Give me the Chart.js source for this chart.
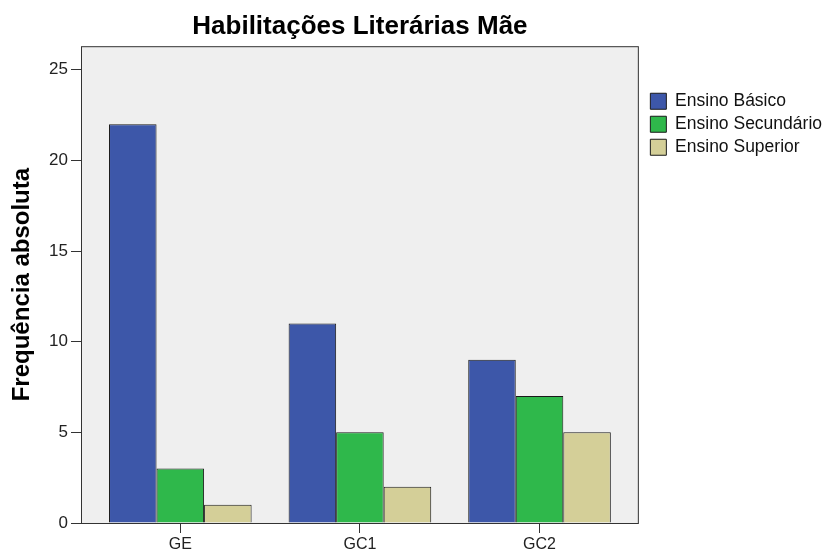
<!DOCTYPE html>
<html>
<head>
<meta charset="utf-8">
<script src="https://cdn.jsdelivr.net/npm/chart.js@4/dist/chart.umd.min.js"></script>
<style>
  html, body { margin: 0; padding: 0; background: #fff; }
  #wrap { width: 824px; height: 554px; }
</style>
</head>
<body>
<div id="wrap"><canvas id="chart"></canvas></div>
<script>
// categories and series
const grupos = ['GE', 'GC1', 'GC2'];
const seriesNomes = ['Ensino Básico', 'Ensino Secundário', 'Ensino Superior'];
const ensinoBasico = [22, 11, 9];
const ensinoSecundario = [3, 5, 7];
const ensinoSuperior = [1, 2, 5];
const yTicks = [0, 5, 10, 15, 20, 25];

const cores = ['#3d57a9', '#2fb84b', '#d4cf98'];
const FONT = "'Liberation Sans', Arial, sans-serif";

// gray plot background + frame, and push the legend a bit off the frame
const framePlugin = {
    id: 'frame',
    afterLayout: function(chart) {
        const lg = chart.legend;
        if (lg) { lg.left += 6; lg.right += 6; }
    },
    beforeDatasetsDraw: function(chart) {
        const a = chart.chartArea;
        const ctx = chart.ctx;
        ctx.save();
        ctx.fillStyle = '#efefef';
        ctx.fillRect(a.left, a.top, a.right - a.left, a.bottom - a.top);
        ctx.strokeStyle = '#333';
        ctx.lineWidth = 1;
        ctx.strokeRect(a.left + 0.5, a.top + 0.5, a.right - a.left - 1, a.bottom - a.top);
        ctx.restore();
    }
};

const toPoints = (vals) => vals.map((v, i) => ({ x: i, y: v }));
const series = [ensinoBasico, ensinoSecundario, ensinoSuperior];

const chart = new Chart(document.getElementById('chart'), {
    type: 'bar',
    data: {
        datasets: series.map((vals, k) => ({
            label: seriesNomes[k],
            data: toPoints(vals),
            backgroundColor: cores[k],
            borderColor: '#1a1a1a',
            borderWidth: 1,
            borderSkipped: 'bottom',
            categoryPercentage: 0.794,
            barPercentage: 1
        }))
    },
    options: {
        responsive: true,
        maintainAspectRatio: false,
        animation: false,
        layout: { padding: { top: 0, left: 0, right: -2, bottom: 0 } },
        scales: {
            x: {
                type: 'linear',
                min: -0.553,
                max: 2.553,
                offset: false,
                afterBuildTicks: (s) => { s.ticks = grupos.map((g, i) => ({ value: i })); },
                afterFit: (s) => { s.height = 31; },
                ticks: {
                    callback: (v) => grupos[v],
                    color: '#222',
                    font: { family: FONT, size: 16 },
                    padding: 2,
                    maxRotation: 0
                },
                grid: { offset: false, drawOnChartArea: false, tickLength: 10, tickColor: '#333' },
                border: { display: false }
            },
            y: {
                min: 0,
                max: 26.3,
                afterBuildTicks: (s) => { s.ticks = yTicks.map(v => ({ value: v })); },
                afterFit: (s) => { s.width = 81; },
                ticks: {
                    color: '#222',
                    font: { family: FONT, size: 17 },
                    padding: 3
                },
                grid: { drawOnChartArea: false, tickLength: 10, tickColor: '#333' },
                border: { display: false },
                title: {
                    display: true,
                    text: 'Frequência absoluta',
                    color: '#000',
                    font: { family: FONT, size: 24, weight: 'bold' },
                    padding: { top: 8, bottom: 0 }
                }
            }
        },
        plugins: {
            title: {
                display: true,
                fullSize: false,
                text: 'Habilitações Literárias Mãe',
                color: '#000',
                font: { family: FONT, size: 26, weight: 'bold' },
                padding: { top: 11, bottom: 4 }
            },
            legend: {
                position: 'right',
                align: 'start',
                title: { display: true, text: ' ', font: { size: 10, lineHeight: 1 }, padding: { top: 0, bottom: 77 } },
                labels: {
                    color: '#111',
                    font: { family: FONT, size: 17.5 },
                    boxWidth: 16,
                    boxHeight: 16,
                    padding: 5.5
                }
            },
            tooltip: { enabled: false }
        }
    },
    plugins: [framePlugin]
});
</script>
</body>
</html>
